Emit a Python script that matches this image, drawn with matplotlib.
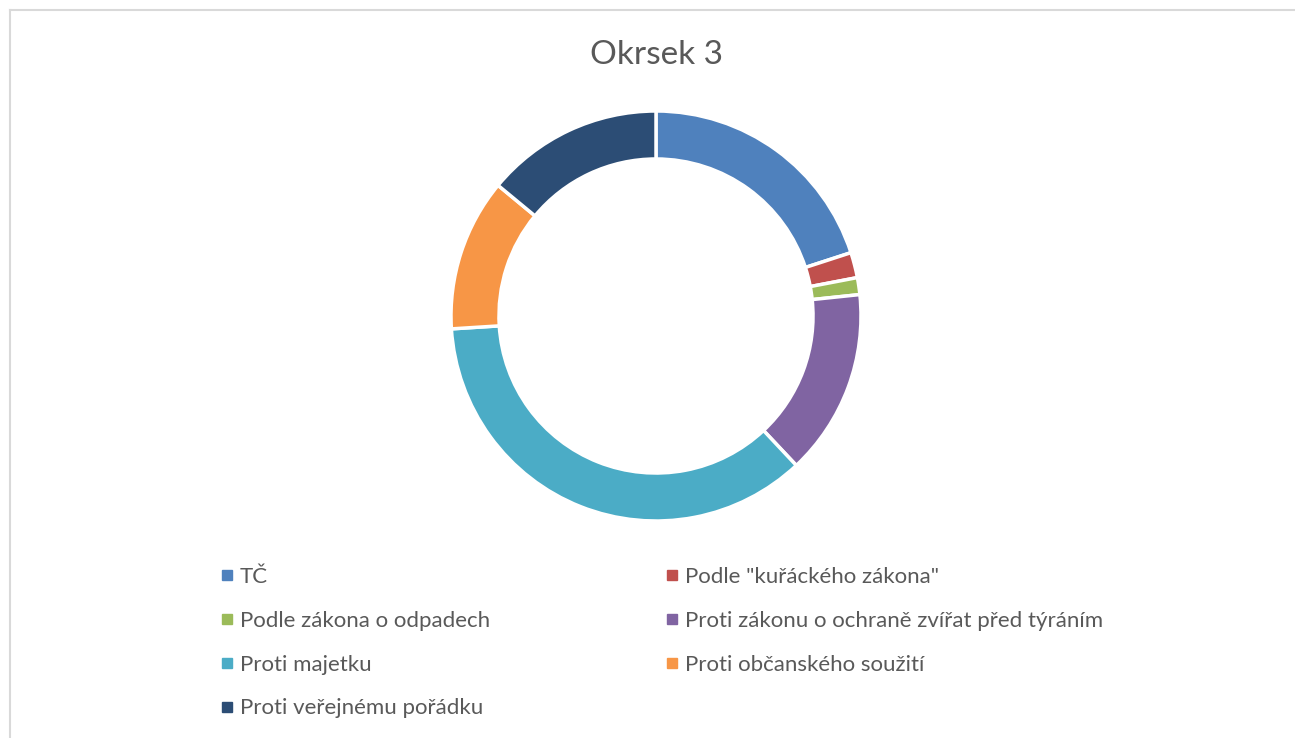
import matplotlib.pyplot as plt
from matplotlib.lines import Line2D

categories = ["TČ", "Podle \"kuřáckého zákona\"", "Podle zákona o odpadech",
              "Proti zákonu o ochraně zvířat před týráním", "Proti majetku",
              "Proti občanského soužití", "Proti veřejnému pořádku"]
values = [30, 3, 2, 22, 54, 18, 21]
colors = ["#4F81BD", "#C0504D", "#9BBB59", "#8064A2", "#4BACC6", "#F79646", "#2C4D75"]

W, H = 1295, 738
plt.rcParams['font.family'] = ['Lato', 'DejaVu Sans']
fig = plt.figure(figsize=(W / 100, H / 100), dpi=100)

# chart area border (top and left only visible)
fig.add_artist(Line2D([9.5 / W, 9.5 / W], [0, 1 - 10 / H], transform=fig.transFigure, color="#D9D9D9", lw=1.5))
fig.add_artist(Line2D([9.5 / W, 1], [1 - 10 / H, 1 - 10 / H], transform=fig.transFigure, color="#D9D9D9", lw=1.5))

cx, cy, r = 656, 316, 205
ax = fig.add_axes([(cx - r) / W, (H - cy - r) / H, 2 * r / W, 2 * r / H])
wedges, _ = ax.pie(values, colors=colors, startangle=90, counterclock=False, radius=1,
                   wedgeprops=dict(width=0.234, edgecolor="white", linewidth=2.5))
ax.set_xlim(-1, 1)
ax.set_ylim(-1, 1)
ax.set_aspect("equal")
ax.axis("off")

fig.text(656 / W, 1 - 55 / H, "Okrsek 3", ha="center", va="center", fontsize=24, color="#595959")

handles = [Line2D([], [], marker="s", linestyle="", color=c, markersize=7.5) for c in colors]
cols = [[0, 2, 4, 6], [1, 3, 5]]
xs = [221, 666]
for col, x0 in zip(cols, xs):
    leg = fig.legend([handles[i] for i in col], [categories[i] for i in col],
                     loc="upper left", bbox_to_anchor=(x0 / W, 1 - 567 / H),
                     frameon=False, fontsize=16, labelcolor="#595959",
                     handlelength=0.55, handletextpad=0.3, labelspacing=1.07,
                     borderpad=0, borderaxespad=0)

fig.savefig("out.png", dpi=100)
